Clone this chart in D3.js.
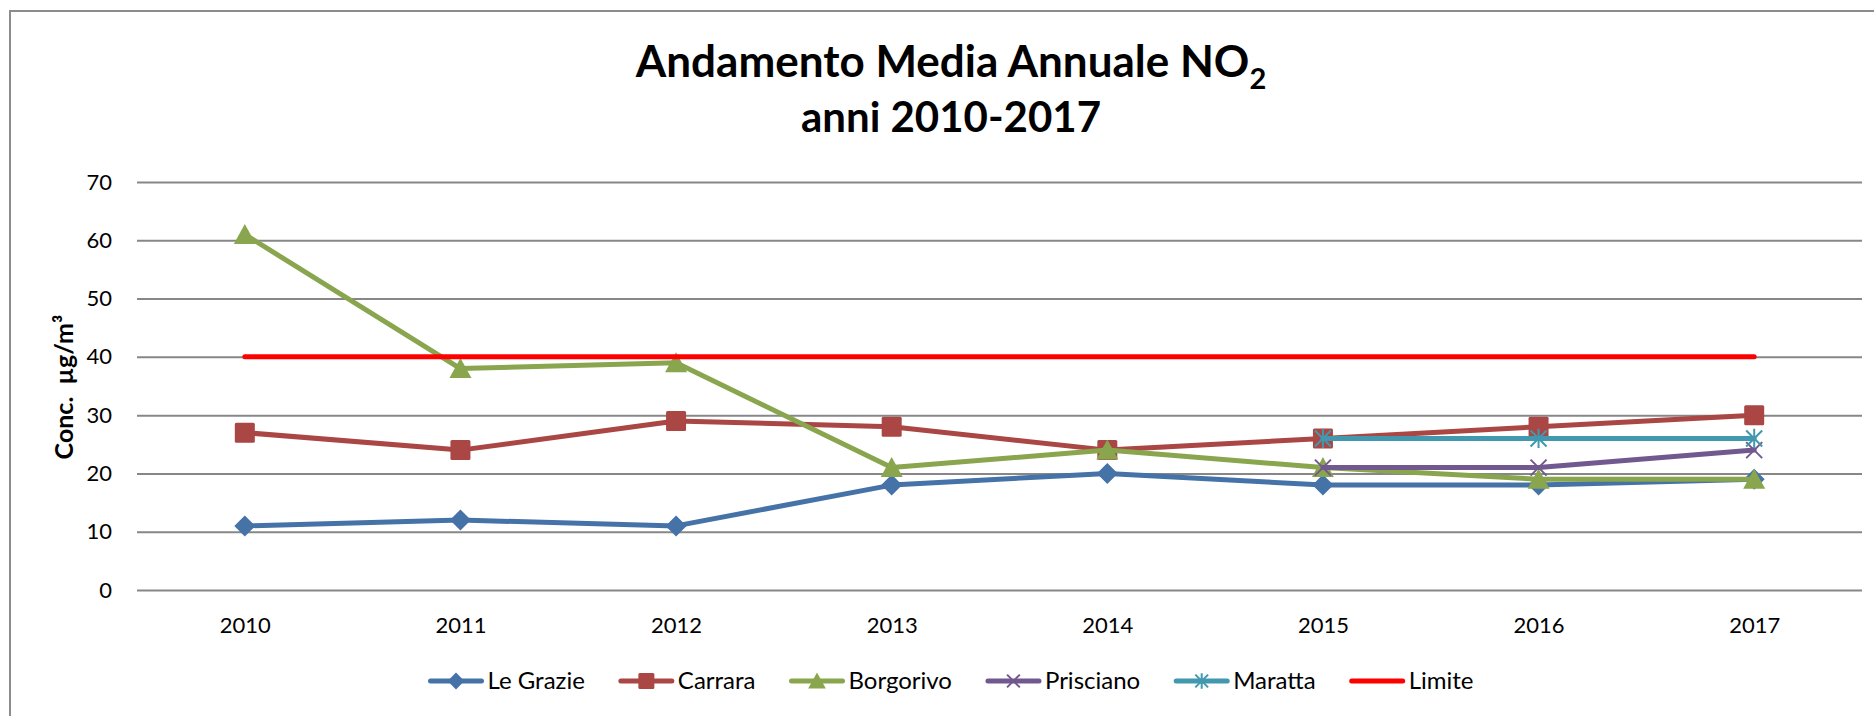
<!DOCTYPE html>
<html>
<head>
<meta charset="utf-8">
<script src="https://cdn.jsdelivr.net/npm/d3@7"></script>
<style>
  html, body { margin: 0; padding: 0; background: #fff; }
  svg { display: block; font-family: Lato, "Open Sans", sans-serif; }
</style>
</head>
<body>
<svg id="chart" width="1874" height="716"></svg>
<script>
// Dati
const years = ['2010', '2011', '2012', '2013', '2014', '2015', '2016', '2017'];
const leGrazie  = [11, 12, 11, 18, 20, 18, 18, 19];
const carrara   = [27, 24, 29, 28, 24, 26, 28, 30];
const borgorivo = [61, 38, 39, 21, 24, 21, 19, 19];
const prisciano = [null, null, null, null, null, 21, 21, 24];
const maratta   = [null, null, null, null, null, 26, 26, 26];
const limite    = [40, 40, 40, 40, 40, 40, 40, 40];
const yTicks = [0, 10, 20, 30, 40, 50, 60, 70];

const series = [
  { name: 'Le Grazie', values: leGrazie,  color: '#4572A7', marker: 'diamond' },
  { name: 'Carrara',   values: carrara,   color: '#AA4643', marker: 'square' },
  { name: 'Borgorivo', values: borgorivo, color: '#89A54E', marker: 'triangle' },
  { name: 'Prisciano', values: prisciano, color: '#71588F', marker: 'x' },
  { name: 'Maratta',   values: maratta,   color: '#4198AF', marker: 'star' },
  { name: 'Limite',    values: limite,    color: '#FF0000', marker: null }
];

const plot = { left: 137, right: 1862, top: 182, bottom: 590 };

const svg = d3.select('#chart');

// Cornice
svg.append('rect')
  .attr('x', 10).attr('y', 11)
  .attr('width', 1900).attr('height', 800)
  .attr('fill', 'none')
  .attr('stroke', '#8c8c8c')
  .attr('stroke-width', 2);

const x = d3.scalePoint()
  .domain(years)
  .range([plot.left, plot.right])
  .padding(0.5);

const y = d3.scaleLinear()
  .domain([0, 70])
  .range([plot.bottom, plot.top]);

// Griglia + asse Y
const yAxis = svg.append('g')
  .attr('transform', `translate(${plot.left},0)`)
  .call(d3.axisLeft(y).tickValues(yTicks)
    .tickSizeInner(-(plot.right - plot.left)).tickSizeOuter(0).tickPadding(25));
yAxis.select('.domain').remove();
yAxis.selectAll('.tick line').attr('stroke', '#878787').attr('stroke-width', 2);
yAxis.selectAll('.tick text')
  .attr('fill', '#000')
  .style('font-size', '22px')
  .style('font-family', 'Lato, sans-serif');

// Asse X
const xAxis = svg.append('g')
  .attr('transform', `translate(0,${plot.bottom})`)
  .call(d3.axisBottom(x).tickSize(0).tickPadding(27));
xAxis.select('.domain').remove();
xAxis.selectAll('.tick text')
  .attr('fill', '#000')
  .style('font-size', '22px')
  .style('font-family', 'Lato, sans-serif');

// Etichetta Y
svg.append('text')
  .attr('transform', 'translate(73,387) rotate(-90)')
  .attr('text-anchor', 'middle')
  .style('font-size', '25px')
  .style('font-weight', 'bold')
  .style('white-space', 'pre')
  .text('Conc.  µg/m³');

// Titolo
const title = svg.append('text')
  .attr('x', 951).attr('y', 77)
  .attr('text-anchor', 'middle')
  .style('font-size', '44px')
  .style('font-weight', 'bold');
title.append('tspan').text('Andamento Media Annuale NO');
title.append('tspan').attr('dy', 12).style('font-size', '29px').text('2');

svg.append('text')
  .attr('x', 951).attr('y', 132)
  .attr('text-anchor', 'middle')
  .style('font-size', '42px')
  .style('font-weight', 'bold')
  .text('anni 2010-2017');

// Marcatori
function drawMarker(g, type, color, k) {
  const r = 10 * k;
  if (type === 'diamond') {
    g.append('path').attr('d', `M0,${-r * 1.05}L${r * 1.05},0L0,${r * 1.05}L${-r * 1.05},0Z`).attr('fill', color);
  } else if (type === 'square') {
    g.append('rect').attr('x', -r).attr('y', -r).attr('width', 2 * r).attr('height', 2 * r)
      .attr('rx', 1.5).attr('fill', color);
  } else if (type === 'triangle') {
    g.append('path').attr('d', `M0,${-r * 1.05}L${r * 1.1},${r * 0.95}L${-r * 1.1},${r * 0.95}Z`).attr('fill', color);
  } else if (type === 'x') {
    const s = 8 * k;
    g.append('path').attr('d', `M${-s},${-s}L${s},${s}M${-s},${s}L${s},${-s}`)
      .attr('stroke', color).attr('stroke-width', 2).attr('fill', 'none');
  } else if (type === 'star') {
    const s = 8 * k;
    g.append('path').attr('d', `M${-s},${-s}L${s},${s}M${-s},${s}L${s},${-s}M0,${-s * 1.2}L0,${s * 1.2}`)
      .attr('stroke', color).attr('stroke-width', 2).attr('fill', 'none');
  }
}

const line = d3.line()
  .defined(d => d.v != null)
  .x(d => x(d.year))
  .y(d => y(d.v));

series.forEach(s => {
  const pts = years.map((yr, i) => ({ year: yr, v: s.values[i] }));
  const g = svg.append('g');
  g.append('path')
    .datum(pts)
    .attr('d', line)
    .attr('fill', 'none')
    .attr('stroke', s.color)
    .attr('stroke-width', 5)
    .attr('stroke-linejoin', 'round')
    .attr('stroke-linecap', 'round');
  if (s.marker) {
    pts.filter(d => d.v != null).forEach(d => {
      const m = g.append('g').attr('transform', `translate(${x(d.year)},${y(d.v)})`);
      drawMarker(m, s.marker, s.color, 1);
    });
  }
});

// Legenda
const legend = svg.append('g');
const gap = 34;
let lx = 0;
series.forEach(s => {
  const item = legend.append('g').attr('transform', `translate(${lx},0)`);
  item.append('line')
    .attr('x1', 2).attr('x2', 53).attr('y1', 0).attr('y2', 0)
    .attr('stroke', s.color).attr('stroke-width', 5).attr('stroke-linecap', 'round');
  if (s.marker) {
    const m = item.append('g').attr('transform', 'translate(27.5,0)');
    drawMarker(m, s.marker, s.color, 0.8);
  }
  const t = item.append('text')
    .attr('x', 59).attr('y', 8)
    .style('font-size', '24px')
    .text(s.name);
  lx += 59 + t.node().getComputedTextLength() + gap;
});
lx -= gap;
legend.attr('transform', `translate(${951 - lx / 2},681)`);
</script>
</body>
</html>
